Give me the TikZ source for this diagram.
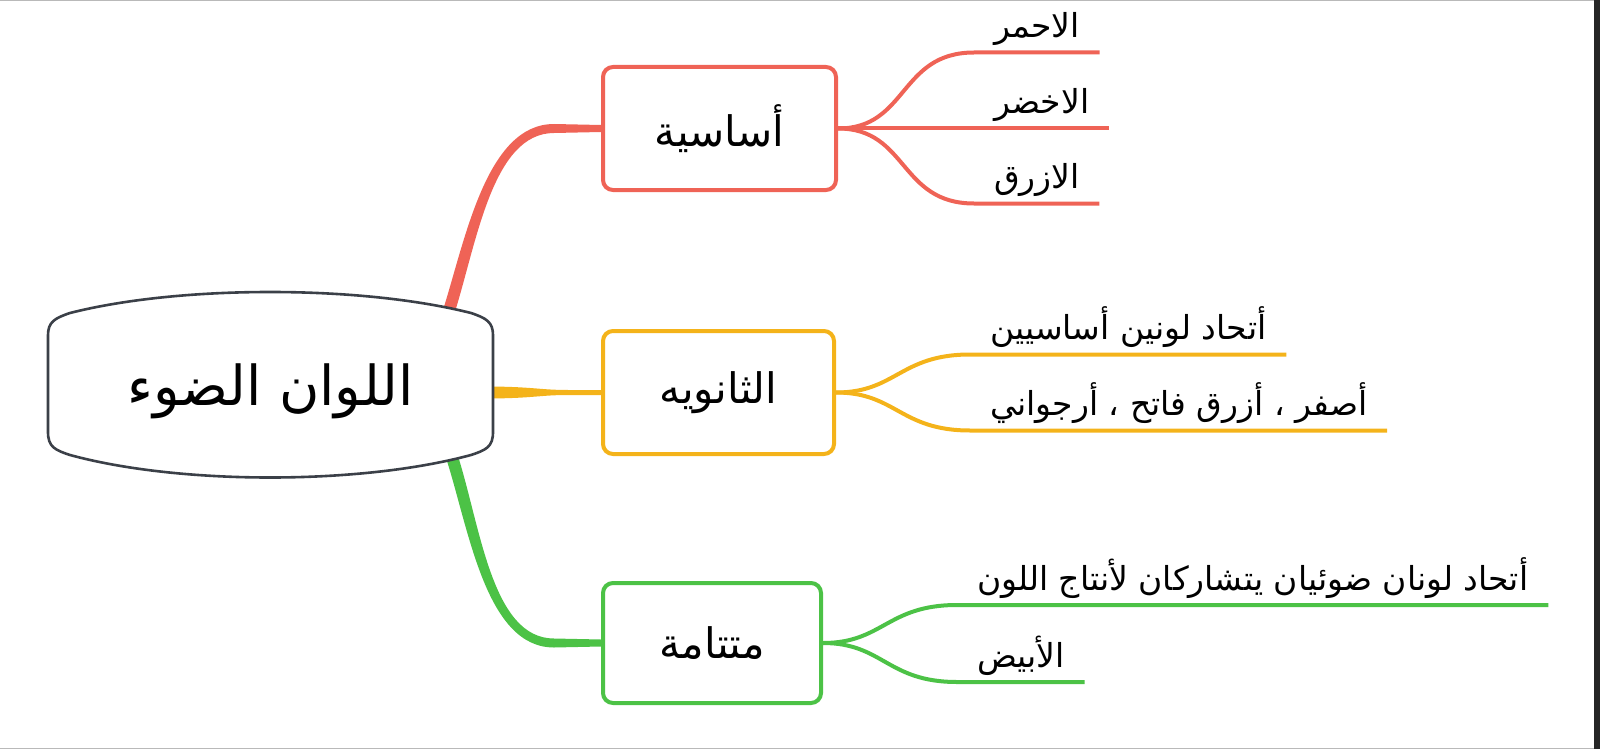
\documentclass[tikz,border=0pt]{standalone}
\usepackage{fontspec}
\usetikzlibrary{calc,backgrounds}
\TeXXeTstate=1
\newfontfamily\arabicfont[Script=Arabic]{DejaVu Sans}
\newcommand{\artext}[1]{{\arabicfont\beginR #1\endR}}
\definecolor{mapred}{HTML}{EF6356}
\definecolor{mapyellow}{HTML}{F4B31A}
\definecolor{mapgreen}{HTML}{4CC246}
\definecolor{mapframe}{HTML}{3B4048}
\tikzset{
  topic/.style={draw, line width=2pt, rounded corners=5pt, fill=white, font=\fontsize{21}{25}\selectfont},
  leaf/.style={anchor=south west, inner xsep=10pt, inner ysep=0pt, outer sep=0pt, text height=13pt, text depth=7.5pt, font=\fontsize{16.5}{20}\selectfont},
  twig/.style={line width=2pt}
}
\begin{document}
\begin{tikzpicture}[x=0.5pt,y=-0.5pt]
  \useasboundingbox (0,0) rectangle (1600,749);
  % screen edges
  \draw[gray!55, line width=0.5pt] (0,0.5) -- (1594,0.5) (0,748.5) -- (1594,748.5);
  \fill[black!85] (1594,0) rectangle (1600,749);

  % central topic
  \draw[mapframe, line width=1.3pt, fill=white] (48,335) -- (48,432) .. controls (48,447) and (55,450) .. (70,455)
    .. controls (180,485) and (360,485) .. (471,455) .. controls (486,450) and (493,447) .. (493,432) -- (493,335)
    .. controls (493,322) and (486,318) .. (471,313) .. controls (360,285) and (180,285) .. (70,313)
    .. controls (55,318) and (48,322) .. (48,335) -- cycle;
  \node[minimum width=222.5pt, font=\fontsize{27.5}{33}\selectfont] (root) at (270.5,391) {\artext{اللوان الضوء}};

  \node[topic, draw=mapred, minimum width=116.5pt, minimum height=61.5pt] (basic) at (719.5,128.5) {\artext{أساسية}};
  \node[topic, draw=mapyellow, minimum width=115.5pt, minimum height=61.5pt] (second) at (718.5,392.5) {\artext{الثانويه}};
  \node[topic, draw=mapgreen, minimum width=109pt, minimum height=60pt] (compl) at (712,643) {\artext{متتامة}};

  \node[leaf] (lred) at ($(basic.east)+(136,-76)$) {\artext{الاحمر}};
  \node[leaf] (lgreen) at ($(basic.east)+(136,0)$) {\artext{الاخضر}};
  \node[leaf] (lblue) at ($(basic.east)+(136,75)$) {\artext{الازرق}};
  \node[leaf] (mix) at ($(second.east)+(134,-38)$) {\artext{أتحاد لونين أساسيين}};
  \node[leaf] (trio) at ($(second.east)+(134,38)$) {\artext{أصفر ، أزرق فاتح ، أرجواني}};
  \node[leaf] (pair) at ($(compl.east)+(134,-38)$) {\artext{أتحاد لونان ضوئيان يتشاركان لأنتاج اللون}};
  \node[leaf] (white) at ($(compl.east)+(134,39)$) {\artext{الأبيض}};

  \coordinate (redfoot) at (448,314);
  \coordinate (greenfoot) at (452,457);
  \coordinate (yfoot) at (root.east |- second.west);
  \begin{scope}[on background layer]
    \fill[mapred] ($(redfoot)+(-5.7,-1.8)$) .. controls +(23,-72) and ($(basic.west)+(-115,-4.5)$) .. ($(basic.west)+(-47,-4.5)$)
      -- ($(basic.west)+(0,-3.5)$) -- ($(basic.west)+(0,3.5)$) -- ($(basic.west)+(-47,4.5)$)
      .. controls ($(basic.west)+(-109,4.5)$) and ($(redfoot)+(28.7,-70.2)$) .. ($(redfoot)+(5.7,1.8)$) -- cycle;
    \fill[mapyellow] ($(yfoot)+(-10,-6)$) .. controls +(50,0) and ($(yfoot)+(45,-2.5)$) .. ($(yfoot)+(75,-2.5)$)
      -- ($(second.west)+(0,-2.5)$) -- ($(second.west)+(0,2.5)$) -- ($(yfoot)+(75,2.5)$)
      .. controls ($(yfoot)+(45,2.5)$) and ($(yfoot)+(40,6)$) .. ($(yfoot)+(-10,6)$) -- cycle;
    \fill[mapgreen] ($(greenfoot)+(5.7,-1.8)$) .. controls +(23,72) and ($(compl.west)+(-109,-4.5)$) .. ($(compl.west)+(-47,-4.5)$)
      -- ($(compl.west)+(0,-3.5)$) -- ($(compl.west)+(0,3.5)$) -- ($(compl.west)+(-47,4.5)$)
      .. controls ($(compl.west)+(-115,4.5)$) and ($(greenfoot)+(17.3,73.8)$) .. ($(greenfoot)+(-5.7,1.8)$) -- cycle;
  \end{scope}

  \draw[twig, mapred] (basic.east) .. controls +(70,0) and +(-75,0) .. (lred.south west) -- (lred.south east);
  \draw[twig, mapred] (basic.east) -- (lgreen.south east);
  \draw[twig, mapred] (basic.east) .. controls +(70,0) and +(-75,0) .. (lblue.south west) -- (lblue.south east);
  \draw[twig, mapyellow] (second.east) .. controls +(60,0) and +(-70,0) .. (mix.south west) -- (mix.south east);
  \draw[twig, mapyellow] (second.east) .. controls +(60,0) and +(-70,0) .. (trio.south west) -- (trio.south east);
  \draw[twig, mapgreen] (compl.east) .. controls +(60,0) and +(-70,0) .. (pair.south west) -- (pair.south east);
  \draw[twig, mapgreen] (compl.east) .. controls +(60,0) and +(-70,0) .. (white.south west) -- (white.south east);
\end{tikzpicture}
\end{document}
